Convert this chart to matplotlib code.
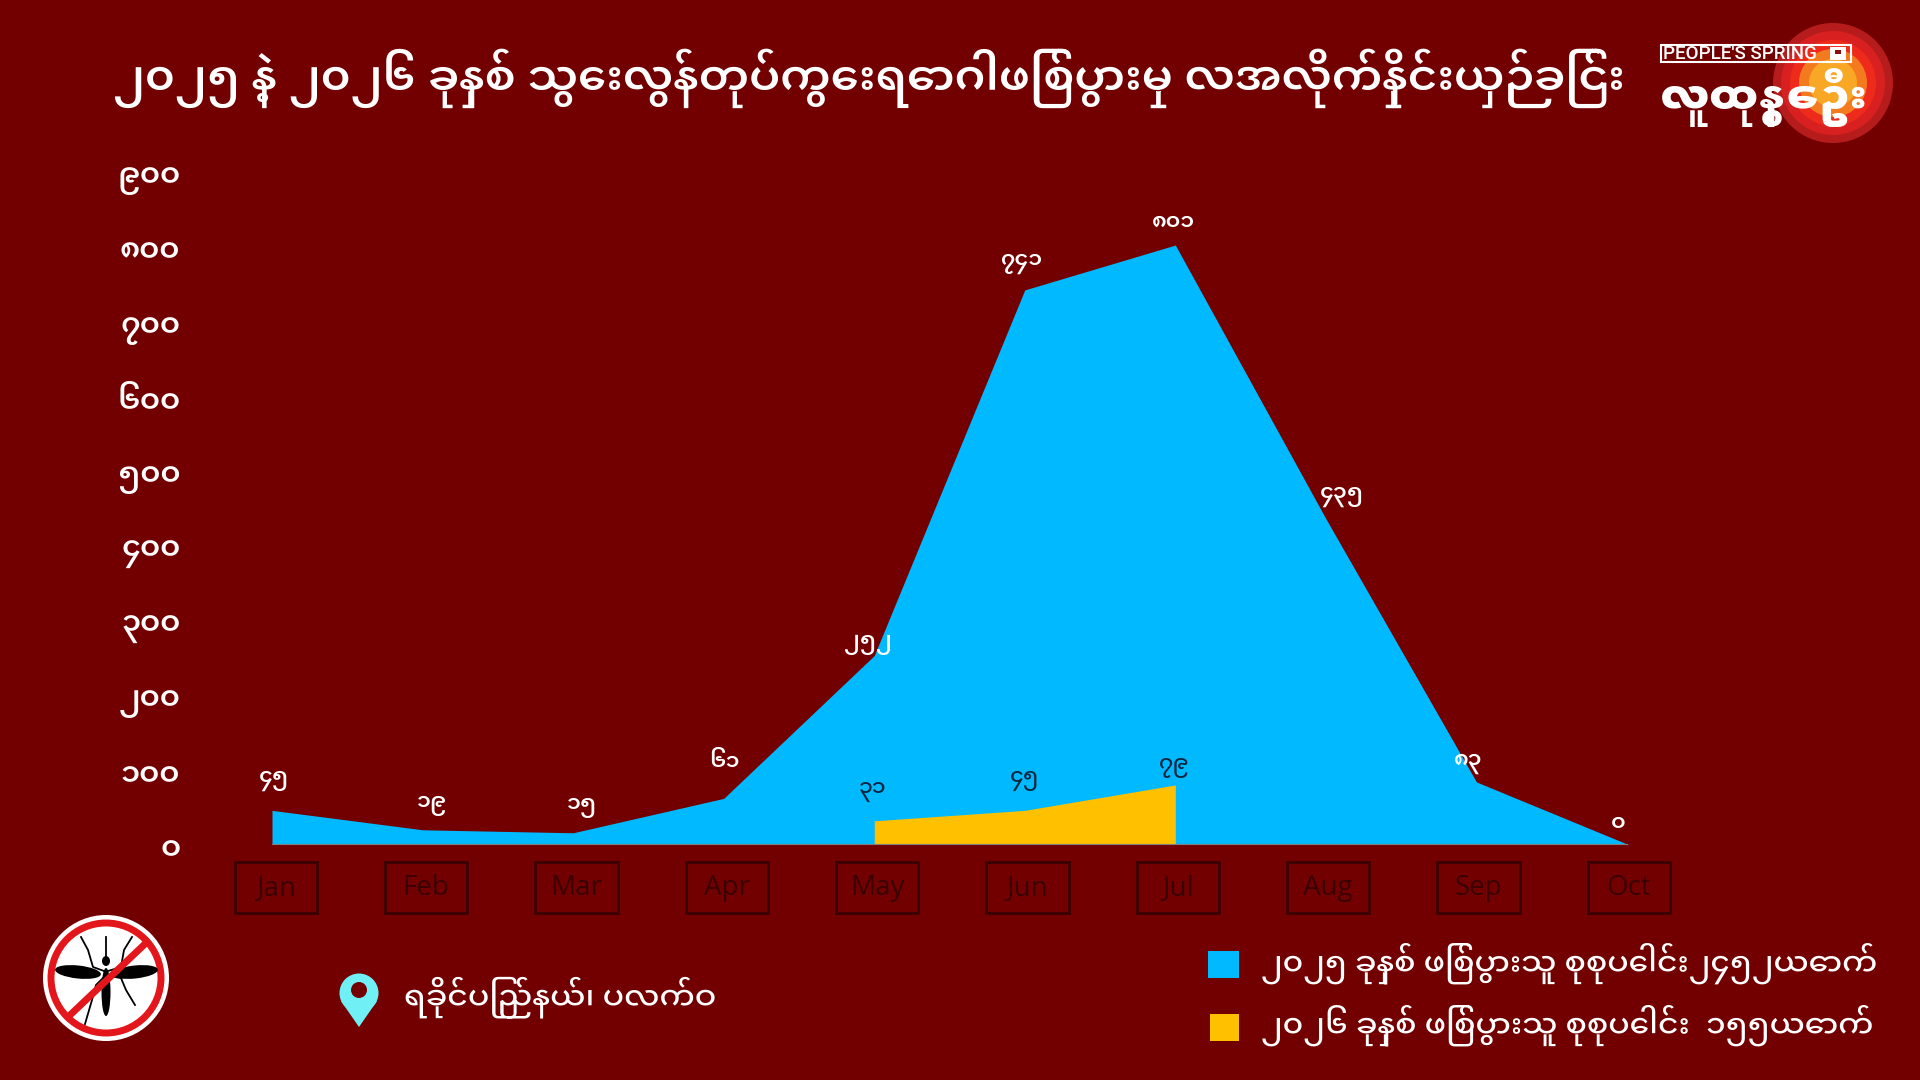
import matplotlib
matplotlib.use("Agg")
import matplotlib.pyplot as plt
import numpy as np
from matplotlib.patches import Circle, Ellipse, Polygon, Rectangle
from matplotlib.transforms import ScaledTranslation

months = ["Jan", "Feb", "Mar", "Apr", "May", "Jun", "Jul", "Aug", "Sep", "Oct"]
cases_2025 = [45, 19, 15, 61, 252, 741, 801, 435, 83, 0]
months_2026 = ["May", "Jun", "Jul"]
cases_2026 = [31, 45, 79]
y_ticks = [0, 100, 200, 300, 400, 500, 600, 700, 800, 900]

title = "၂၀၂၅ နဲ့ ၂၀၂၆ ခုနှစ် သွေးလွန်တုပ်ကွေးရောဂါဖြစ်ပွားမှု လအလိုက်နှိုင်းယှဉ်ခြင်း"
legend_2025 = "၂၀၂၅ ခုနှစ် ဖြစ်ပွားသူ စုစုပေါင်း၂၄၅၂ယောက်"
legend_2026 = "၂၀၂၆ ခုနှစ် ဖြစ်ပွားသူ စုစုပေါင်း  ၁၅၅ယောက်"
place = "ရခိုင်ပြည်နယ်၊ ပလက်ဝ"

BG = "#720000"
BLUE = "#00B9FF"
YELLOW = "#FFC000"
DARK = "#3A0000"

plt.rcParams["font.family"] = ["Noto Sans Myanmar UI", "Noto Sans", "DejaVu Sans"]
plt.rcParams["font.weight"] = 500


def burmese_num(n):
    return "".join(chr(0x1040 + int(c)) for c in str(n))


fig = plt.figure(figsize=(19.2, 10.8), dpi=100, facecolor=BG)
W, H = 1920, 1080
left, right, top, base = 272, 1627, 171, 844
ax = fig.add_axes([left / W, 1 - base / H, (right - left) / W, (base - top) / H])
ax.set_facecolor("none")
x = np.arange(len(months))
ax.fill_between(x, cases_2025, 0, color=BLUE, linewidth=0)
x26 = [months.index(m) for m in months_2026]
ax.fill_between(x26, cases_2026, 0, color=YELLOW, linewidth=0)
ax.set_xlim(0, 9)
ax.set_ylim(0, 900)
for s in ["top", "left", "right"]:
    ax.spines[s].set_visible(False)
ax.spines["bottom"].set_color("#7F7F7F")
ax.set_xticks([])
ax.set_yticks(y_ticks)
ax.set_yticklabels([burmese_num(v) for v in y_ticks], color="white", fontsize=22, fontweight=600)
ax.tick_params(axis="y", length=0, pad=66)
# the reference labels sit a few pixels under their ticks
for lab in ax.get_yticklabels():
    lab.set_transform(lab.get_transform() + ScaledTranslation(0, -5 / 100, fig.dpi_scale_trans))

# month boxes under the axis
for i, m in enumerate(months):
    cx = 0.025 + i * 0.9985
    ax.add_patch(Rectangle((cx - 0.273, -18 / 673), 0.546, -51 / 673,
                           transform=ax.get_xaxis_transform(), clip_on=False,
                           fill=False, edgecolor=DARK, linewidth=2))
    ax.text(cx, -44 / 673, m, transform=ax.get_xaxis_transform(),
            ha="center", va="center", color=DARK, fontsize=20,
            family=["Open Sans", "DejaVu Sans"], fontweight="normal", stretch="normal")

# value labels, pixel offsets from each point
off_2025 = [(2, 30), (10, 24), (9, 25), (1, 34), (-6, 11), (-3, 26), (-2, 21), (16, 22), (-8, 18), (-9, 19)]
for i, v in enumerate(cases_2025):
    ax.annotate(burmese_num(v), (i, v), xytext=(off_2025[i][0] * 0.72, off_2025[i][1] * 0.72),
                textcoords="offset points", ha="center", va="center", color="white",
                fontsize=16, fontweight=600)
off_2026 = [(-2, 29), (0, 30), (-1, 17)]
for i, v, o in zip(x26, cases_2026, off_2026):
    ax.annotate(burmese_num(v), (i, v), xytext=(o[0] * 0.72, o[1] * 0.72),
                textcoords="offset points", ha="center", va="center", color="#0A2540",
                fontsize=16, fontweight=500)

# everything else is placed in pixels on a full figure layer
lay = fig.add_axes([0, 0, 1, 1], facecolor="none")
lay.set_xlim(0, W)
lay.set_ylim(H, 0)
lay.axis("off")

lay.text(113, 78, title, color="white", fontsize=32.5, fontweight=600, ha="left", va="center")

lay.add_patch(Rectangle((1208, 951), 31, 27, color=BLUE, linewidth=0))
lay.add_patch(Rectangle((1210, 1014), 29, 27, color=YELLOW, linewidth=0))
lay.text(1261, 963, legend_2025, color="white", fontsize=22.6, ha="left", va="center")
lay.text(1261, 1025, legend_2026, color="white", fontsize=22.6, ha="left", va="center")

# location pin
lay.add_patch(Polygon([(341, 1001), (377, 1001), (359, 1027)], color="#70F0F5", linewidth=0))
lay.add_patch(Circle((359, 993), 19.5, color="#70F0F5", linewidth=0))
lay.add_patch(Circle((359, 990), 8, color=BG, linewidth=0))
lay.text(404, 997, place, color="white", fontsize=22.7, ha="left", va="center")

# logo rings
for r, c in zip([60, 52, 43, 34, 24], ["#B71C1C", "#D82020", "#EE2A1B", "#F47A1F", "#F9A825"]):
    lay.add_patch(Circle((1833, 83), r, color=c, linewidth=0))
lay.add_patch(Rectangle((1661, 45), 190, 17, fill=False, edgecolor="white", linewidth=1.5))
lay.add_patch(Rectangle((1830, 47), 16, 13, color="white", linewidth=0))
lay.add_patch(Rectangle((1835, 50), 6, 4, color="#8A1010", linewidth=0))
lay.text(1663, 54, "PEOPLE'S SPRING", color="white", fontsize=13.5, ha="left", va="center",
         family=["Roboto", "DejaVu Sans"])
lay.text(1764, 97, "လူထုနွေဦး", color="white", fontsize=32, fontweight=900, ha="center", va="center")

# no-mosquito badge
lay.add_patch(Circle((106, 978), 63, color="white", linewidth=0))
lay.add_patch(Circle((106, 978), 55, fill=False, edgecolor="#E3171B", linewidth=5))
lay.add_patch(Ellipse((78, 972), 46, 13, angle=6, color="black", linewidth=0))
lay.add_patch(Ellipse((135, 972), 46, 13, angle=-6, color="black", linewidth=0))
lay.add_patch(Ellipse((106, 992), 9, 48, color="black", linewidth=0))
lay.add_patch(Ellipse((106, 961), 8, 10, color="black", linewidth=0))
for xs, ys in [((106, 106), (937, 957)), ((81, 88, 93, 104), (937, 950, 967, 971)),
               ((132, 124, 121, 108), (937, 950, 967, 971)),
               ((85, 92, 96, 104), (1024, 1000, 985, 977)), ((135, 126, 121, 108), (1005, 990, 978, 976))]:
    lay.plot(xs, ys, color="black", linewidth=1.3)
lay.plot([68, 147], [1017, 942], color="#E3171B", linewidth=5)

fig.savefig("out.png", dpi=100, facecolor=BG)
